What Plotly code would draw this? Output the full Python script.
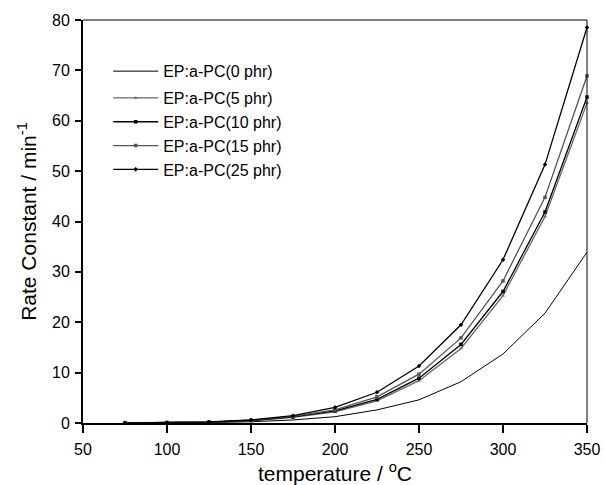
import plotly.graph_objects as go

temperature = [75, 100, 125, 150, 175, 200, 225, 250, 275, 300, 325, 350]
k_0phr = [0.01, 0.03, 0.08, 0.25, 0.6, 1.25, 2.6, 4.6, 8.2, 13.7, 21.8, 33.9]
k_5phr = [0.02, 0.06, 0.15, 0.45, 1.1, 2.2, 4.4, 8.4, 14.8, 25.3, 41.0, 63.5]
k_10phr = [0.02, 0.06, 0.16, 0.5, 1.2, 2.4, 4.7, 8.9, 15.6, 26.1, 41.9, 64.7]
k_15phr = [0.02, 0.07, 0.18, 0.55, 1.3, 2.6, 5.2, 9.7, 16.9, 28.2, 44.8, 68.9]
k_25phr = [0.03, 0.08, 0.2, 0.6, 1.45, 3.1, 6.1, 11.3, 19.5, 32.4, 51.3, 78.5]

names = ["EP:a-PC(0 phr)", "EP:a-PC(5 phr)", "EP:a-PC(10 phr)", "EP:a-PC(15 phr)", "EP:a-PC(25 phr)"]
series = [k_0phr, k_5phr, k_10phr, k_15phr, k_25phr]
colors = ["#000000", "#666666", "#000000", "#555555", "#000000"]
symbols = [None, "triangle-up", "square", "square", "diamond"]
groups = ["a", "b", "b", "b", "b"]

FONT = "Arial, Liberation Sans, sans-serif"

fig = go.Figure()
for name, vals, col, sym, grp in zip(names, series, colors, symbols, groups):
    if sym is None:
        fig.add_trace(go.Scatter(x=temperature, y=vals, name=name, mode="lines",
                                 line=dict(color=col, width=1), legendgroup=grp,
                                 cliponaxis=False))
    else:
        fig.add_trace(go.Scatter(x=temperature, y=vals, name=name, mode="lines+markers",
                                 line=dict(color=col, width=1.3),
                                 marker=dict(symbol=sym, size=3.5, color=col),
                                 legendgroup=grp, cliponaxis=False))

fig.update_layout(
    width=605, height=485,
    margin=dict(l=83, r=18, t=20, b=62),
    paper_bgcolor="white", plot_bgcolor="white",
    font=dict(family=FONT, color="black", size=16),
    showlegend=True,
    legend=dict(x=0.05, y=0.915, xanchor="left", yanchor="top",
                bgcolor="rgba(0,0,0,0)", borderwidth=0,
                font=dict(size=16, family=FONT),
                tracegroupgap=3, traceorder="grouped", itemwidth=45),
    xaxis=dict(range=[50, 350], tickmode="array", tickvals=[50, 100, 150, 200, 250, 300, 350],
               showgrid=False, zeroline=False, showline=True, linecolor="black", linewidth=2,
               ticks="outside", ticklen=8, tickwidth=1.5, tickcolor="black",
               tickfont=dict(size=16), ticklabelstandoff=3, automargin=False,
               title=dict(text="temperature / <sup>o</sup>C", font=dict(size=21), standoff=14)),
    yaxis=dict(range=[0, 80], tickmode="array", tickvals=[0, 10, 20, 30, 40, 50, 60, 70, 80],
               showgrid=False, zeroline=False, showline=True, linecolor="black", linewidth=2,
               ticks="outside", ticklen=6, tickwidth=1.5, tickcolor="black",
               tickfont=dict(size=16), ticklabelstandoff=2, automargin=False,
               title=dict(text="Rate Constant / min<sup>-1</sup>", font=dict(size=21), standoff=10)),
)
fig.add_shape(type="line", xref="paper", yref="paper", x0=0, x1=1, y0=1, y1=1,
              line=dict(color="black", width=1))
fig.add_shape(type="line", xref="paper", yref="paper", x0=1, x1=1, y0=0, y1=1,
              line=dict(color="black", width=1))

fig.write_html("out.html")
